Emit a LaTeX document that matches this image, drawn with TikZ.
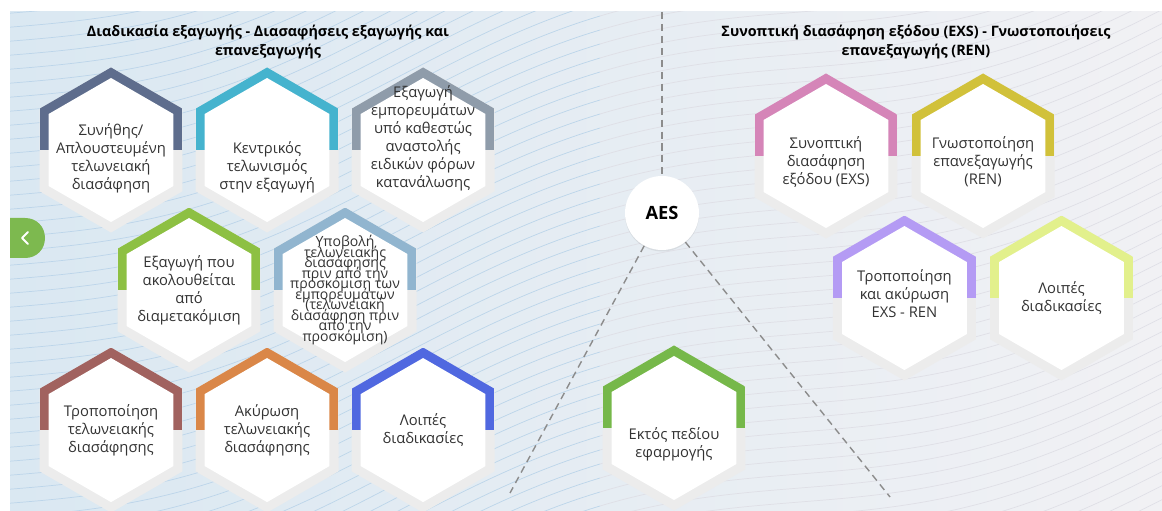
\documentclass[tikz,border=0pt]{standalone}
\usepackage{fontspec}
\setmainfont{Open Sans}
\usetikzlibrary{positioning, shapes.geometric, shadows}

\definecolor{bgblue}{HTML}{DAE8F2}
\definecolor{bgmid}{HTML}{ECF0F2}
\definecolor{bggrey}{HTML}{F1F1F4}
\definecolor{wavel}{HTML}{BCD5EA}
\definecolor{waver}{HTML}{DFDFE6}
\definecolor{hexrim}{HTML}{ECECEC}
\definecolor{txt}{HTML}{333333}
\definecolor{dashgrey}{HTML}{8C8C8C}
\definecolor{tabgreen}{HTML}{7DB94F}
\definecolor{cslate}{HTML}{5E6D8D}
\definecolor{ccyan}{HTML}{45B3CE}
\definecolor{cgrey}{HTML}{8F9CAA}
\definecolor{cgreen}{HTML}{8DC043}
\definecolor{csteel}{HTML}{91B5CF}
\definecolor{cbrown}{HTML}{A1625F}
\definecolor{corange}{HTML}{DA8748}
\definecolor{cblue}{HTML}{5068E0}
\definecolor{cpink}{HTML}{D585B8}
\definecolor{cmustard}{HTML}{D1C13A}
\definecolor{clav}{HTML}{B49BF4}
\definecolor{clime}{HTML}{E2F08C}
\definecolor{cleaf}{HTML}{76B84A}

\newcommand\tightlines{\fontsize{10}{7.5}\selectfont\lineskiplimit=-20pt\relax\lineskip=0pt\relax}

\begin{document}
\begin{tikzpicture}[x=0.025cm, y=-0.025cm, on grid, node distance=3.5cm and 3.9cm,
  hexa/.style={regular polygon, regular polygon sides=6, shape border rotate=30,
    minimum size=4.125cm, inner sep=0pt, fill=hexrim,
    path picture={
      \fill[#1] (path picture bounding box.north west) rectangle (path picture bounding box.east);
      \node[regular polygon, regular polygon sides=6, shape border rotate=30,
        minimum size=3.6cm, inner sep=0pt, fill=white] at (path picture bounding box.center) {};
    }},
  hexlabel/.style={align=center, text=txt, font=\fontsize{10.5}{12.8}\selectfont},
  heading/.style={align=center, text=black, font=\bfseries\fontsize{10.2}{13.5}\selectfont},
  aes/.style={circle, fill=white, minimum size=1.85cm, inner sep=0pt,
    font=\bfseries\fontsize{13}{14}\selectfont,
    drop shadow={opacity=0.15, shadow xshift=0pt, shadow yshift=-1pt}},
  dashline/.style={draw=dashgrey, line width=1pt, dash pattern=on 5pt off 3.5pt},
  wave/.style={line width=0.5pt}]

\useasboundingbox (0,0) rectangle (1162,511);

% background with waves
\begin{scope}
  \clip (10,12) rectangle (1162,511);
  \shade[left color=bgblue, middle color=bgmid, right color=bggrey] (10,12) rectangle (1162,511);
  \foreach \xa/\xb/\wc in {10/600/wavel, 600/1162/waver} {
    \begin{scope}
      \clip (\xa,12) rectangle (\xb,511);
      \foreach \k in {0,...,62}
        \draw[wave, \wc] plot[domain=10:1162, samples=70, smooth]
          (\x, {\k*14 - 0.3*\x + 28*sin(0.45*\x)});
    \end{scope}
  }
\end{scope}

% side tab
\fill[tabgreen] (10,218) -- (25,218) .. controls (37,218) and (45,227) .. (45,238)
  .. controls (45,249) and (37,258) .. (25,258) -- (10,258) -- cycle;
\draw[white, line width=1.3pt, line cap=round, line join=round] (28,232) -- (22,238) -- (28,244);

% headings
\node[heading] (lhead) at (268,42) {Διαδικασία εξαγωγής - Διασαφήσεις εξαγωγής και\\επανεξαγωγής};
\node[heading] (rhead) at (916,42) {Συνοπτική διασάφηση εξόδου (EXS) - Γνωστοποιήσεις\\επανεξαγωγής (REN)};

% export declarations
\node[hexa=cslate, label={[hexlabel, yshift=-0.2cm]center:Συνήθης/\\Απλουστευμένη\\τελωνειακή\\διασάφηση}] (std) at (111,150) {};
\node[hexa=ccyan, right=of std, label={[hexlabel, yshift=-0.43cm]center:Κεντρικός\\τελωνισμός\\στην εξαγωγή}] (cent) {};
\node[hexa=cgrey, right=of cent, label={[hexlabel, yshift=0.3cm]center:Εξαγωγή\\εμπορευμάτων\\υπό καθεστώς\\αναστολής\\ειδικών φόρων\\κατανάλωσης}] (exc) {};
\node[hexa=cgreen, below right=3.5cm and 1.95cm of std, label={[hexlabel]center:Εξαγωγή που\\ακολουθείται\\από\\διαμετακόμιση}] (trn) {};
\node[hexa=csteel, right=of trn, label={[hexlabel, font=\tightlines]center:Υποβολή\\τελωνειακής\\διασάφησης\\πριν από την\\προσκόμιση των\\εμπορευμάτων\\(τελωνειακή\\διασάφηση πριν\\από την\\προσκόμιση)}] (pre) {};
\node[hexa=cbrown, below left=3.5cm and 1.95cm of trn, label={[hexlabel]center:Τροποποίηση\\τελωνειακής\\διασάφησης}] (amd) {};
\node[hexa=corange, right=of amd, label={[hexlabel]center:Ακύρωση\\τελωνειακής\\διασάφησης}] (inv) {};
\node[hexa=cblue, right=of inv, label={[hexlabel]center:Λοιπές\\διαδικασίες}] (oth) {};

% EXS / REN
\node[hexa=cpink, label={[hexlabel, yshift=-0.15cm]center:Συνοπτική\\διασάφηση\\εξόδου (EXS)}] (exs) at (826,156) {};
\node[hexa=cmustard, right=3.925cm of exs, label={[hexlabel, yshift=-0.15cm]center:Γνωστοποίηση\\επανεξαγωγής\\(REN)}] (ren) {};
\node[hexa=clav, below right=3.55cm and 1.96cm of exs, label={[hexlabel, yshift=0.12cm]center:Τροποποίηση\\και ακύρωση\\EXS - REN}] (mod) {};
\node[hexa=clime, right=3.925cm of mod, label={[hexlabel]center:Λοιπές\\διαδικασίες}] (oth2) {};

% out of scope
\node[hexa=cleaf, label={[hexlabel, yshift=-0.42cm]center:Εκτός πεδίου\\εφαρμογής}] (out) at (674,428) {};

\node[aes] (aes) at (662,213) {AES};
\coordinate (top) at (662,12);
\coordinate (endl) at (510,493);
\coordinate (endr) at (890,497);
\draw[dashline] (top) -- (aes);
\draw[dashline] (aes) -- (endl);
\draw[dashline] (aes) -- (endr);

\end{tikzpicture}
\end{document}
